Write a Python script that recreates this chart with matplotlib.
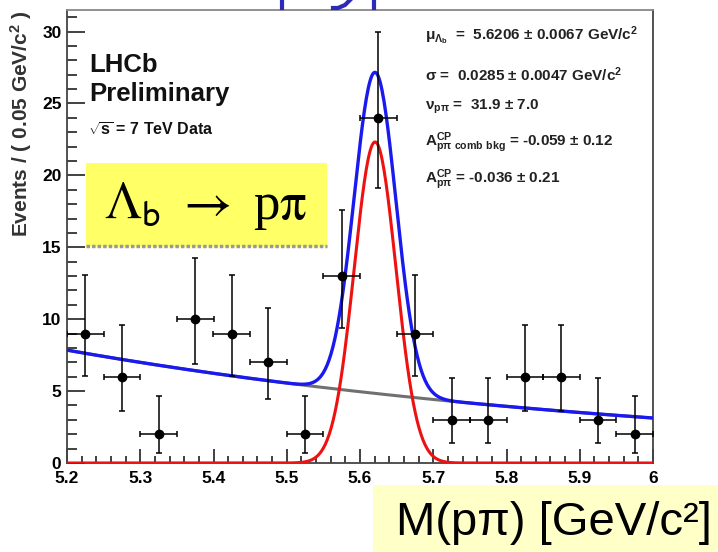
import numpy as np
import matplotlib.pyplot as plt
from matplotlib.patches import Rectangle
from matplotlib.lines import Line2D
from matplotlib.ticker import MultipleLocator, FixedLocator, FixedFormatter

plt.rcParams['font.family'] = ['Liberation Sans', 'DejaVu Sans']
plt.rcParams['mathtext.fontset'] = 'custom'
plt.rcParams['mathtext.rm'] = 'Liberation Sans:bold'
plt.rcParams['mathtext.it'] = 'Liberation Sans:bold'
plt.rcParams['mathtext.bf'] = 'Liberation Sans:bold'
plt.rcParams['mathtext.default'] = 'rm'

# binned data, 0.05 GeV/c^2 bins
mass = [5.225, 5.275, 5.325, 5.375, 5.425, 5.475, 5.525, 5.575,
        5.625, 5.675, 5.725, 5.775, 5.825, 5.875, 5.925, 5.975]
counts = [9, 6, 2, 10, 9, 7, 2, 13, 24, 9, 3, 3, 6, 6, 3, 2]
err_lo = [2.94, 2.38, 1.29, 3.12, 2.94, 2.58, 1.29, 3.60,
          4.89, 2.94, 1.63, 1.63, 2.38, 2.38, 1.63, 1.29]
err_hi = [4.06, 3.58, 2.64, 4.26, 4.06, 3.77, 2.64, 4.58,
          5.98, 4.06, 2.92, 2.92, 3.58, 3.58, 2.92, 2.64]
bin_width = 0.05

# fit model parameters (from the plot)
mu_lb = 5.6206
sigma_lb = 0.0285
n_sig = 31.9
bkg_at_low = 7.85    # background level at 5.2
bkg_slope = -1.15    # exponential slope per GeV/c^2

xticks = [5.2, 5.3, 5.4, 5.5, 5.6, 5.7, 5.8, 5.9, 6.0]
xticklabels = ['5.2', '5.3', '5.4', '5.5', '5.6', '5.7', '5.8', '5.9', '6']
yticks = [0, 5, 10, 15, 20, 25, 30]

fig = plt.figure(figsize=(7.18, 5.52), dpi=100)
ax = fig.add_axes([67/718, 1-463/552, 586/718, 453/552])

m = np.linspace(5.2, 6.0, 600)
sig = n_sig * bin_width / (sigma_lb * np.sqrt(2*np.pi)) * np.exp(-0.5*((m-mu_lb)/sigma_lb)**2)
bkg = bkg_at_low * np.exp(bkg_slope * (m - 5.2))

ax.plot(m, bkg, color='#707070', lw=2.2, zorder=2)
ax.plot(m, sig, color='#ee1111', lw=2.2, zorder=3)
ax.plot(m, sig + bkg, color='#1a1aee', lw=2.4, zorder=4)

ax.errorbar(mass, counts, yerr=[err_lo, err_hi], xerr=bin_width/2,
            fmt='o', color='black', ms=6, elinewidth=1.1, capsize=2.5,
            capthick=1.1, zorder=5)

ax.set_xlim(5.2, 6.0)
ax.set_ylim(0, 31.5)
ax.xaxis.set_major_locator(FixedLocator(xticks))
ax.xaxis.set_major_formatter(FixedFormatter(xticklabels))
ax.xaxis.set_minor_locator(MultipleLocator(0.02))
ax.yaxis.set_major_locator(FixedLocator(yticks))
ax.yaxis.set_minor_locator(MultipleLocator(1))
ax.tick_params(which='both', direction='in', width=1.3, color='#333333')
ax.tick_params(axis='y', which='major', length=13, labelsize=12.5, pad=4)
ax.tick_params(axis='y', which='minor', length=7)
ax.tick_params(axis='x', which='major', length=10, labelsize=12.5, pad=6)
ax.tick_params(axis='x', which='minor', length=5)
for lab in ax.get_xticklabels() + ax.get_yticklabels():
    lab.set_fontweight('bold')
for s in ax.spines.values():
    s.set_color('#444444')
    s.set_linewidth(1.3)
ax.spines['top'].set_color('#888888')

fig.text(21/718, 1-10/552, r'Events / ( 0.05 GeV/c$^{2}$ )', rotation=90,
         ha='center', va='top', fontsize=15, fontweight='bold', color='#333333')

fig.text(89/718, 1-65/552, 'LHCb', fontsize=18.5, fontweight='bold',
         va='center', color='#111111')
fig.text(89/718, 1-94/552, 'Preliminary', fontsize=18.5, fontweight='bold',
         va='center', color='#111111')
fig.text(88/718, 1-130/552, r'$\sqrt{s}$ = 7 TeV Data', fontsize=11.5,
         fontweight='bold', va='center', color='#111111')

params = [
    r'$\mu_{\Lambda_b}$  =  5.6206 ± 0.0067 GeV/c$^2$',
    r'$\sigma$ =  0.0285 ± 0.0047 GeV/c$^2$',
    r'$\nu_{p\pi}$ =  31.9 ± 7.0',
    r'A$^{CP}_{p\pi\ comb\ bkg}$ = -0.059 ± 0.12',
    r'A$^{CP}_{p\pi}$ = -0.036 ± 0.21',
]
param_y = [36, 75, 107, 143, 180]
for txt, py in zip(params, param_y):
    fig.text(425/718, 1-py/552, txt, fontsize=11, fontweight='bold',
             va='center', ha='left', color='#222222')

# yellow boxes from the slide
fig.patches.append(Rectangle((86/718, 1-247/552), 241/718, 84/552,
                             transform=fig.transFigure, facecolor='#ffff66',
                             edgecolor='none', zorder=10))
fig.add_artist(Line2D([86/718, 327/718], [1-246/552, 1-246/552],
                      transform=fig.transFigure, color='#999999', lw=2.5,
                      ls=(0, (1, 0.6)), zorder=11))
fig.text(205/718, 1-206/552, r'$\Lambda_{\mathsf{b}}$ $\rightarrow$ p$\pi$',
         fontsize=38, family='Liberation Serif', ha='center', va='center',
         zorder=12, math_fontfamily='stix')

fig.patches.append(Rectangle((373/718, 0), 345/718, 67/552,
                             transform=fig.transFigure, facecolor='#ffffc8',
                             edgecolor='none', zorder=10))
fig.text(554/718, 1-523/552, 'M(pπ) [GeV/c²]', fontsize=34, ha='center',
         va='center', zorder=12, color='black')

# cropped slide title strokes at the very top edge
for xs, ys in [([282, 282], [0, 8]), ([374, 374], [0, 8]),
               ([350, 345, 338, 333], [0, 5, 8, 8])]:
    fig.add_artist(Line2D([x/718 for x in xs], [1 - y/552 for y in ys],
                          transform=fig.transFigure, color='#2b2bb5', lw=3))

fig.savefig('out.png', dpi=100)
